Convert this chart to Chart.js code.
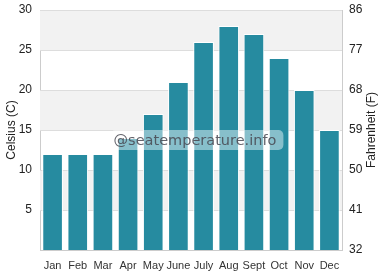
<!DOCTYPE html>
<html><head><meta charset="utf-8">
<script src="https://cdn.jsdelivr.net/npm/chart.js@4"></script>
<style>html,body{margin:0;padding:0;background:#fff}#w{width:382px;height:280px}</style>
</head><body><div id="w"><canvas id="c"></canvas></div>
<script>
const months = ['Jan','Feb','Mar','Apr','May','June','July','Aug','Sept','Oct','Nov','Dec'];
const celsius = [12,12,12,14,17,21,26,28,27,24,20,15];
const fahrenheitTicks = [32,41,50,59,68,77,86];
const rightTitle = 'Fahrenheit (F)';
const watermark = '@seatemperature.info';

const bands = {
  id:'bands',
  beforeDatasetsDraw(chart){
    const {ctx, chartArea:a, scales:{y}} = chart;
    ctx.save();
    ctx.fillStyle = '#f2f2f2';
    for (let v = 5; v < 30; v += 10) {
      const t = y.getPixelForValue(v+5), b = y.getPixelForValue(v);
      ctx.fillRect(a.left, t, a.right-a.left, b-t);
    }
    ctx.strokeStyle = '#dddddd'; ctx.lineWidth = 1;
    for (let v = 5; v <= 30; v += 5) {
      const p = Math.round(y.getPixelForValue(v)) + 0.5;
      ctx.beginPath(); ctx.moveTo(a.left, p); ctx.lineTo(a.right, p); ctx.stroke();
    }
    ctx.restore();
  },
  afterDatasetsDraw(chart){
    const {ctx, chartArea:a} = chart;
    ctx.save();
    ctx.font = '14.5px "DejaVu Sans"';
    const cx = (a.left + a.right)/2 + 4, cy = 140;
    const w = ctx.measureText(watermark).width;
    ctx.fillStyle = 'rgba(255,255,255,0.45)';
    const x0 = cx - w/2 - 3, y0 = cy - 10, ww = w + 10, hh = 20;
    ctx.beginPath();
    if (ctx.roundRect) ctx.roundRect(x0, y0, ww, hh, 5); else ctx.rect(x0,y0,ww,hh);
    ctx.fill();
    ctx.fillStyle = 'rgba(70,70,80,0.85)';
    ctx.textAlign = 'center'; ctx.textBaseline = 'middle';
    ctx.fillText(watermark, cx, cy+1);
    ctx.restore();
  },
  afterDraw(chart){
    const {ctx, chartArea:a, scales:{y2}} = chart;
    ctx.save();
    ctx.font = '12px "Liberation Sans", Arial';
    ctx.fillStyle = '#222';
    ctx.textAlign = 'center'; ctx.textBaseline = 'middle';
    ctx.translate(y2.right - 10, (a.top + a.bottom)/2);
    ctx.rotate(-Math.PI/2);
    ctx.fillText(rightTitle, 0, 0);
    ctx.restore();
  }
};

function fixY(s){ s.width = 40; s.paddingTop = 10; s.paddingBottom = 0; }

new Chart(document.getElementById('c'), {
  type:'bar',
  data:{ labels: months, datasets:[{ data: celsius, backgroundColor:'#268ba0', borderColor:'#ffffff', borderWidth:1, barPercentage:0.82, categoryPercentage:1 }]},
  options:{
    responsive:true, maintainAspectRatio:false, animation:false,
    layout:{padding:{top:10,left:0,right:0,bottom:0}},
    plugins:{legend:{display:false}, tooltip:{enabled:false}},
    scales:{
      x:{ grid:{display:false}, border:{display:true,color:'#cccccc'},
          ticks:{color:'#333', font:{family:'Liberation Sans, Arial', size:11}, padding:1, maxRotation:0, minRotation:0, autoSkip:false},
          afterFit(s){ s.height = 30; s.paddingLeft = 0; s.paddingRight = 0; } },
      y:{ position:'left', min:0, max:30,
          grid:{display:false, drawTicks:false}, border:{display:true,color:'#cccccc'},
          ticks:{stepSize:5, color:'#222', font:{family:'Liberation Sans, Arial', size:12}, padding:8,
                 callback:v => v === 0 ? '' : v},
          title:{display:true, text:'Celsius (C)', color:'#222', font:{family:'Liberation Sans, Arial', size:12}},
          afterFit: fixY },
      y2:{ position:'right', min:32, max:86,
          grid:{display:false, drawTicks:false}, border:{display:true,color:'#cccccc'},
          afterBuildTicks(s){ s.ticks = fahrenheitTicks.map(v => ({value:v})); },
          ticks:{color:'#222', font:{family:'Liberation Sans, Arial', size:12}, padding:7},
          afterFit: fixY }
    }
  },
  plugins:[bands]
});
</script>
</body></html>
